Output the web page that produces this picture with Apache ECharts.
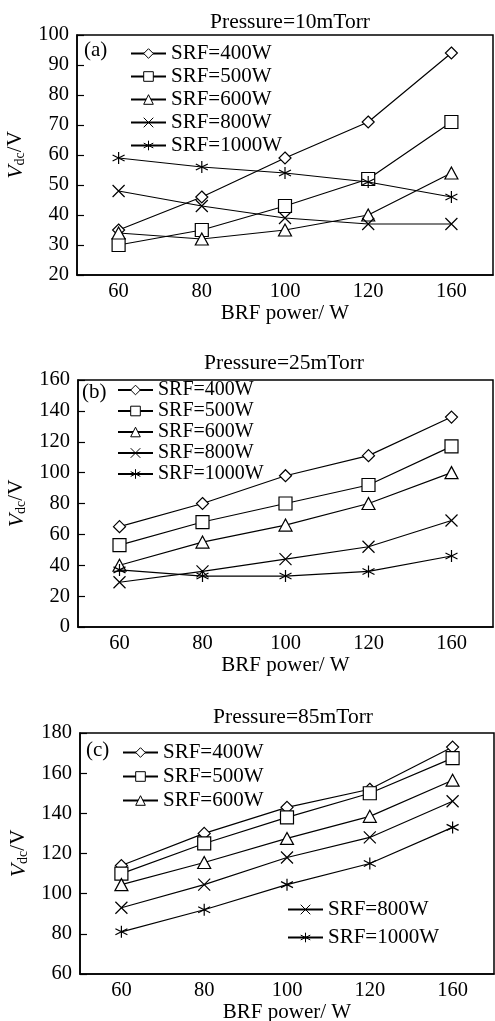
<!DOCTYPE html>
<html><head><meta charset="utf-8">
<script src="https://cdn.jsdelivr.net/npm/echarts@6/dist/echarts.min.js"></script>
<style>html,body{margin:0;padding:0;background:#fff}#c{width:495px;height:1021px}</style>
</head><body><div id="c"></div>
<script>
const categories = ['60', '80', '100', '120', '160'];
const seriesNames = ['SRF=400W', 'SRF=500W', 'SRF=600W', 'SRF=800W', 'SRF=1000W'];
const panelTitles = ['Pressure=10mTorr', 'Pressure=25mTorr', 'Pressure=85mTorr'];
const panelTags = ['(a)', '(b)', '(c)'];
const xName = 'BRF power/ W';
// Panel (a) 10 mTorr
const a400 = [35, 46, 59, 71, 94];
const a500 = [30, 35, 43, 52, 71];
const a600 = [34, 32, 35, 40, 54];
const a800 = [48, 43, 39, 37, 37];
const a1000 = [59, 56, 54, 51, 46];
// Panel (b) 25 mTorr
const b400 = [65, 80, 98, 111, 136];
const b500 = [53, 68, 80, 92, 117];
const b600 = [40, 55, 66, 80, 100];
const b800 = [29, 36, 44, 52, 69];
const b1000 = [37, 33, 33, 36, 46];
// Panel (c) 85 mTorr
const c400 = [114, 130, 143, 152, 173];
const c500 = [110, 125, 138, 150, 167.5];
const c600 = [104.5, 115.5, 127.5, 138.5, 156.5];
const c800 = [93, 104.5, 118, 128, 146];
const c1000 = [81, 92, 104.5, 115, 133];
const yMin = [20, 0, 60];
const yMax = [100, 160, 180];
const yInterval = [10, 20, 20];

const panelData = [
  [a400, a500, a600, a800, a1000],
  [b400, b500, b600, b800, b1000],
  [c400, c500, c600, c800, c1000]
];

const FONT = "'Liberation Serif','Times New Roman',serif";
const symbols = [
  'diamond',
  'rect',
  'triangle',
  'path://M0,0L10,10M10,0L0,10',
  'path://M5,0L5,10M0.67,2.5L9.33,7.5M0.67,7.5L9.33,2.5'
];
const symSizes = [[12, 12], 13, [13, 12], 12, 12];

const grids = [
  {left: 77, top: 35, width: 416, height: 240},
  {left: 78, top: 380, width: 415, height: 247},
  {left: 80, top: 733, width: 414, height: 241}
];

const xAxes = [], yAxes = [], series = [];
grids.forEach((g, i) => {
  xAxes.push({
    type: 'category', gridIndex: i, data: categories, boundaryGap: true,
    axisLine: {lineStyle: {color: '#000', width: 1.5}},
    axisTick: {inside: true, alignWithLabel: true, length: 7, lineStyle: {color: '#000', width: 1.2}},
    axisLabel: {color: '#000', fontFamily: FONT, fontSize: 20.5, margin: 6},
    splitLine: {show: false},
    name: xName, nameLocation: 'middle', nameGap: 27,
    nameTextStyle: {color: '#000', fontFamily: FONT, fontSize: 21}
  });
  yAxes.push({
    type: 'value', gridIndex: i, min: yMin[i], max: yMax[i], interval: yInterval[i],
    axisLine: {show: true, lineStyle: {color: '#000', width: 1.5}},
    axisTick: {show: true, inside: true, length: 7, lineStyle: {color: '#000', width: 1.2}},
    axisLabel: {color: '#000', fontFamily: FONT, fontSize: 20.5, margin: 8},
    splitLine: {show: false},
    name: '{v|V}{s|dc}{n|/V}', nameLocation: 'middle', nameGap: 44, nameRotate: 90,
    nameTextStyle: {
      color: '#000', fontFamily: FONT, fontSize: 21,
      rich: {
        v: {fontFamily: FONT, fontSize: 22, fontStyle: 'italic', color: '#000'},
        s: {fontFamily: FONT, fontSize: 14, color: '#000', padding: [9, 0, 0, 0]},
        n: {fontFamily: FONT, fontSize: 21, color: '#000'}
      }
    }
  });
  panelData[i].forEach((d, k) => {
    series.push({
      type: 'line', name: seriesNames[k], xAxisIndex: i, yAxisIndex: i, data: d,
      symbol: symbols[k], symbolSize: symSizes[k], showAllSymbol: true,
      lineStyle: {color: '#000', width: 1.2},
      itemStyle: {color: '#fff', borderColor: '#000', borderWidth: 1.2},
      emphasis: {disabled: true}, animation: false, z: 3 + k
    });
  });
});

const legendBase = {
  orient: 'vertical', itemWidth: 35, itemHeight: 12, itemGap: 2,
  textStyle: {color: '#000', fontFamily: FONT, fontSize: 21, lineHeight: 20},
  itemStyle: {color: '#fff', borderColor: '#000', borderWidth: 1},
  inactiveColor: '#000', selectedMode: false, padding: 0
};
const legends = [
  Object.assign({}, legendBase, {left: 130, top: 43, itemGap: 2, data: seriesNames}),
  Object.assign({}, legendBase, {left: 117, top: 380, itemGap: 1, data: seriesNames,
    textStyle: {color: '#000', fontFamily: FONT, fontSize: 20, lineHeight: 20}}),
  Object.assign({}, legendBase, {left: 122, top: 742, itemGap: 3, data: seriesNames.slice(0, 3)}),
  Object.assign({}, legendBase, {left: 287, top: 899, itemGap: 7, data: seriesNames.slice(3)})
];

const titlePos = [[290, 22], [284, 363], [293, 717]];
const tagPos = [[84, 50], [82, 392], [86, 750]];
const graphics = [];
for (let i = 0; i < 3; i++) {
  graphics.push({type: 'text', x: titlePos[i][0], y: titlePos[i][1],
    style: {text: panelTitles[i], fill: '#000', font: '21.5px ' + FONT, textAlign: 'center', textVerticalAlign: 'middle'}});
  graphics.push({type: 'text', x: tagPos[i][0], y: tagPos[i][1],
    style: {text: panelTags[i], fill: '#000', font: '21px ' + FONT, textAlign: 'left', textVerticalAlign: 'middle'}});
}

const chart = echarts.init(document.getElementById('c'), null, {renderer: 'canvas'});
chart.setOption({
  animation: false,
  backgroundColor: '#fff',
  grid: grids.map(g => Object.assign({show: true, borderColor: '#000', borderWidth: 1.5, backgroundColor: 'transparent',
    containLabel: false, outerBoundsMode: 'none'}, g)),
  xAxis: xAxes, yAxis: yAxes, series: series, legend: legends, graphic: graphics
});
</script></body></html>
